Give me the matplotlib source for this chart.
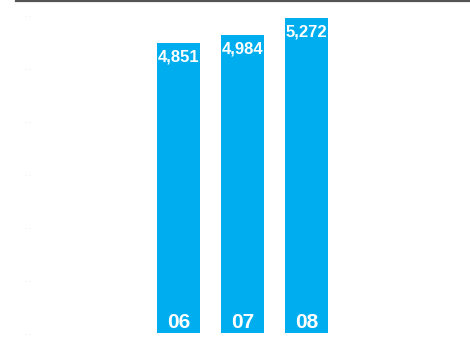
import matplotlib
matplotlib.use("Agg")
import matplotlib.pyplot as plt

years = ["06", "07", "08"]
values = [4851, 4984, 5272]
value_labels = ["4,851", "4,984", "5,272"]

bar_color = "#00AEEF"

fig = plt.figure(figsize=(4.70, 3.56), dpi=100)
ax = fig.add_axes([16 / 470, 1 - 333 / 356, 454 / 470, 332 / 356])

x = list(range(len(years)))
ax.bar(x, values, width=0.67, color=bar_color, zorder=2)

ax.set_xlim(-2.54, 4.55)
ax.set_ylim(0, 5550)

# value labels inside the top of each bar, year at the bottom
for xi, v, lab in zip(x, values, value_labels):
    ax.annotate(lab, (xi, v), xytext=(0, -5), textcoords="offset points",
                ha="center", va="top", color="white", fontsize=12,
                fontweight="bold", family="Liberation Sans")
    ax.annotate(years[xi], (xi, 0), xytext=(0, 1), textcoords="offset points",
                ha="center", va="bottom", color="white", fontsize=15,
                fontweight="bold", family="Liberation Sans")

# faint gridline marks on the left
ax.set_yticks([0, 886, 1772, 2658, 3544, 4430, 5316])
ax.set_yticklabels([". ."] * 7, fontsize=4, color="#d0d0d0")
ax.tick_params(axis="y", length=0, pad=-10)
ax.set_xticks([])

for s in ["left", "right", "bottom"]:
    ax.spines[s].set_visible(False)
ax.spines["top"].set_color("#555555")
ax.spines["top"].set_linewidth(1.6)

fig.savefig("out.png", dpi=100)
